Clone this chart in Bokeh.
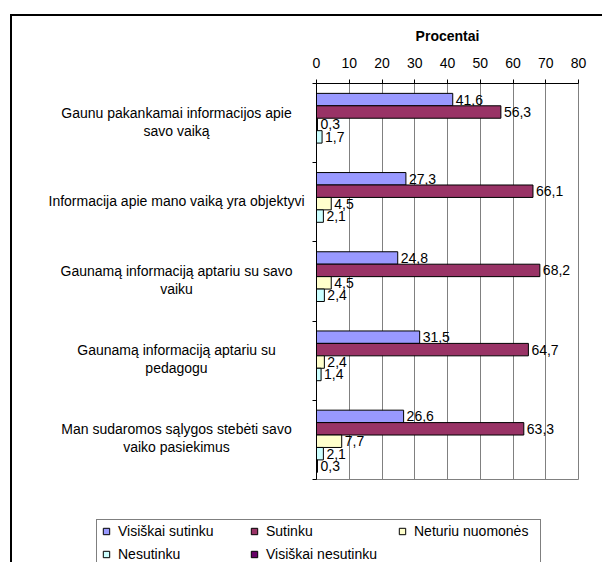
from bokeh.plotting import figure
from bokeh.layouts import row, column
from bokeh.models import (ColumnDataSource, Range1d, FixedTicker, Legend, LegendItem)
from bokeh.core.properties import value
from bokeh.embed import file_html
from bokeh.resources import INLINE

categories = [
    "Gaunu pakankamai informacijos apie\nsavo vaiką",
    "Informacija apie mano vaiką yra objektyvi",
    "Gaunamą informaciją aptariu su savo\nvaiku",
    "Gaunamą informaciją aptariu su\npedagogu",
    "Man sudaromos sąlygos stebėti savo\nvaiko pasiekimus",
]
series_names = ["Visiškai sutinku", "Sutinku", "Neturiu nuomonės", "Nesutinku", "Visiškai nesutinku"]
visiskai_sutinku = [41.6, 27.3, 24.8, 31.5, 26.6]
sutinku = [56.3, 66.1, 68.2, 64.7, 63.3]
neturiu_nuomones = [0.3, 4.5, 4.5, 2.4, 7.7]
nesutinku = [1.7, 2.1, 2.4, 1.4, 2.1]
visiskai_nesutinku = [None, None, None, None, 0.3]
x_ticks = [0, 10, 20, 30, 40, 50, 60, 70, 80]
axis_title = "Procentai"

colors = ["#9999FF", "#993366", "#FFFFCC", "#CCFFFF", "#660066"]
FONT = "Liberation Sans"

series = [visiskai_sutinku, sutinku, neturiu_nuomones, nesutinku, visiskai_nesutinku]
n_cat = len(categories)
bar_h = 0.157

TOP = 67
FRAME_H = 396
BOT = 10
ROW_H = TOP + FRAME_H + BOT

y_range = Range1d(n_cat, 0)

# ---------------- main chart ----------------
p = figure(width=286, height=ROW_H, output_backend="svg", toolbar_location=None,
           title=None, x_range=Range1d(x_ticks[0], x_ticks[-1]), y_range=y_range,
           x_axis_location="above", min_border_left=4, min_border_right=20,
           min_border_top=TOP, min_border_bottom=BOT)
p.background_fill_color = "white"
p.border_fill_color = "white"
p.outline_line_color = "#808080"

p.xaxis.ticker = FixedTicker(ticks=x_ticks)
p.xaxis.minor_tick_line_color = None
p.xaxis.major_tick_out = 4
p.xaxis.major_tick_in = 0
p.xaxis.major_label_text_font = FONT
p.xaxis.major_label_text_font_size = "14px"
p.xaxis.major_label_text_color = "black"
p.xaxis.major_label_standoff = 12
p.xaxis.axis_line_color = "black"
p.xaxis.major_tick_line_color = "black"
p.xaxis.axis_label = axis_title
p.xaxis.axis_label_text_font = FONT
p.xaxis.axis_label_text_font_size = "14px"
p.xaxis.axis_label_text_font_style = "bold"
p.xaxis.axis_label_text_color = "black"
p.xaxis.axis_label_standoff = 11

p.yaxis.ticker = FixedTicker(ticks=list(range(n_cat + 1)))
p.yaxis.major_label_text_font_size = "0px"
p.yaxis.major_label_text_color = None
p.yaxis.major_label_standoff = 0
p.yaxis.minor_tick_line_color = None
p.yaxis.major_tick_out = 4
p.yaxis.major_tick_in = 0
p.yaxis.axis_line_color = "black"
p.yaxis.major_tick_line_color = "black"

p.xgrid.grid_line_color = "#808080"
p.ygrid.grid_line_color = None

sources = []
for j, (name, vals, col) in enumerate(zip(series_names, series, colors)):
    ys, xs, labs = [], [], []
    for i, v in enumerate(vals):
        if v is None:
            continue
        ys.append(i + 0.5 + (j - 2) * bar_h + 0.017)
        xs.append(v)
        labs.append(("%.1f" % v).replace(".", ","))
    src = ColumnDataSource(dict(y=ys, x=xs, lab=labs))
    sources.append(src)
    p.hbar(y="y", right="x", left=0, height=bar_h, source=src,
           fill_color=col, line_color="black", line_width=1)
    p.text(x="x", y="y", text="lab", source=src, x_offset=3,
           text_align="left", text_baseline="middle",
           text_font=value(FONT), text_font_size="14px", text_color="black")

# ---------------- category labels panel ----------------
lab_fig = figure(width=300, height=ROW_H, output_backend="svg", toolbar_location=None,
                 title=None, x_range=Range1d(0, 300), y_range=y_range,
                 x_axis_type=None, y_axis_type=None,
                 min_border_left=0, min_border_right=0,
                 min_border_top=TOP, min_border_bottom=BOT)
lab_fig.outline_line_color = None
lab_fig.grid.grid_line_color = None
ly, lt = [], []
for i, cat in enumerate(categories):
    lines = cat.split("\n")
    n = len(lines)
    for k, line in enumerate(lines):
        ly.append(i + 0.5 + (k - (n - 1) / 2) * 0.227 - 0.02)
        lt.append(line)
lab_fig.text(x=164, y="y", text="t", source=ColumnDataSource(dict(y=ly, t=lt)),
             text_align="center", text_baseline="middle",
             text_font=value(FONT), text_font_size="14px", text_color="black")

# ---------------- legend panel ----------------
# same data sources as the chart; the view range is set away from them so only the legend shows
leg_fig = figure(width=590, height=73, output_backend="svg", toolbar_location=None,
                 title=None, x_range=Range1d(-20, -10), y_range=Range1d(-20, -10),
                 x_axis_type=None, y_axis_type=None, min_border=0)
leg_fig.outline_line_color = None
leg_fig.grid.grid_line_color = None
items = []
for name, col, src in zip(series_names, colors, sources):
    r = leg_fig.scatter(x="x", y="y", marker="square", source=src, size=7,
                        fill_color=col, line_color="black", line_width=1)
    items.append(LegendItem(label=name, renderers=[r]))
legend = Legend(items=items, orientation="horizontal", ncols=3,
                location=(84, -4), padding=1, spacing=3,
                glyph_width=16, glyph_height=16, label_standoff=4,
                label_width=125, label_height=20,
                label_text_font=FONT, label_text_font_size="14px",
                label_text_color="black", border_line_color="black",
                border_line_width=1, background_fill_color="white",
                background_fill_alpha=1)
leg_fig.add_layout(legend, "center")

layout = column(row(lab_fig, p), leg_fig,
                styles={"border-left": "2px solid black", "border-top": "2px solid black",
                        "margin-left": "10px", "margin-top": "14px"})

open("out.html", "w").write(file_html(layout, INLINE))
